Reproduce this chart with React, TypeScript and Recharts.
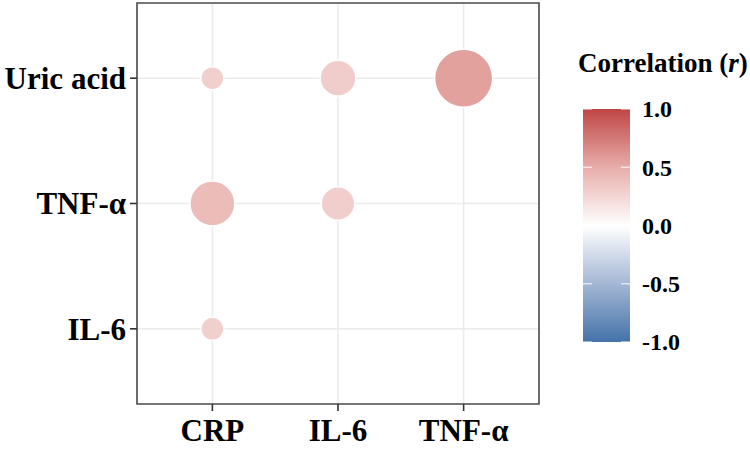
import { ScatterChart, Scatter, XAxis, YAxis, ZAxis, CartesianGrid, ReferenceArea, Cell } from "recharts";

document.body.style.margin = "0";

const FONT = '"Times New Roman", "Liberation Serif", serif';

// x categories (columns) and y categories (rows, bottom to top)
const xLabels = ["CRP", "IL-6", "TNF-α"];
const yLabels = ["IL-6", "TNF-α", "Uric acid"];

// one entry per bubble
const pointX = ["CRP", "IL-6", "TNF-α", "CRP", "IL-6", "CRP"];
const pointY = ["Uric acid", "Uric acid", "Uric acid", "TNF-α", "TNF-α", "IL-6"];
const corrR = [0.29, 0.31, 0.56, 0.41, 0.3, 0.29];
const logP = [1.4, 2.4, 5.2, 3.4, 2.2, 1.4];

const legendTicks = [1.0, 0.5, 0.0, -0.5, -1.0];

const COLOR_STOPS: [number, number[]][] = [
  [-1, [68, 114, 169]],
  [-0.5, [164, 183, 212]],
  [0, [255, 255, 255]],
  [0.5, [231, 173, 169]],
  [1, [191, 69, 69]],
];

function corrColor(r: number) {
  for (let i = 0; i < COLOR_STOPS.length - 1; i++) {
    const [a, ca] = COLOR_STOPS[i];
    const [b, cb] = COLOR_STOPS[i + 1];
    if (r >= a && r <= b) {
      const t = (r - a) / (b - a);
      const c = ca.map((v, k) => Math.round(v + (cb[k] - v) * t));
      return `rgb(${c[0]},${c[1]},${c[2]})`;
    }
  }
  return "#fff";
}

const data = pointX.map((x, i) => ({
  x: xLabels.indexOf(x),
  y: yLabels.indexOf(pointY[i]),
  r: corrR[i],
  size: logP[i],
}));

function XTick({ x, y, payload }: any) {
  return (
    <text x={x} y={y + 28} textAnchor="middle" fontFamily={FONT} fontWeight="bold" fontSize={31} fill="#000">
      {xLabels[payload.value]}
    </text>
  );
}

function YTick({ x, y, payload }: any) {
  return (
    <text x={x - 2} y={y} dy="0.35em" textAnchor="end" fontFamily={FONT} fontWeight="bold" fontSize={31} fill="#000">
      {yLabels[payload.value]}
    </text>
  );
}

function ColorBar() {
  const left = 583;
  const w = 47;
  const top = 109;
  const bottom = 342;
  const toY = (v: number) => top + ((1 - v) / 2) * (bottom - top);
  const stops = [];
  for (let v = 1; v >= -1.0001; v -= 0.1) stops.push(v);
  return (
    <svg width={750} height={449} style={{ position: "absolute", left: 0, top: 0, pointerEvents: "none" }}>
      <defs>
        <linearGradient id="cbar" x1="0" y1="0" x2="0" y2="1">
          {stops.map((v, i) => (
            <stop key={i} offset={`${((1 - v) / 2) * 100}%`} stopColor={corrColor(Math.max(-1, Math.min(1, v)))} />
          ))}
        </linearGradient>
      </defs>
      <text x={578} y={72} fontFamily={FONT} fontWeight="bold" fontSize={27} fill="#000">
        Correlation (<tspan fontStyle="italic">r</tspan>)
      </text>
      <rect x={left} y={top} width={w} height={bottom - top} fill="url(#cbar)" />
      {legendTicks.map((v) => (
        <g key={v}>
          <line x1={left} x2={left + 9} y1={toY(v)} y2={toY(v)} stroke="#fff" strokeWidth={1.2} opacity={0.8} />
          <line x1={left + w - 9} x2={left + w} y1={toY(v)} y2={toY(v)} stroke="#fff" strokeWidth={1.2} opacity={0.8} />
          <text x={642} y={toY(v)} dy="0.35em" fontFamily={FONT} fontWeight="bold" fontSize={24} fill="#000">
            {v.toFixed(1)}
          </text>
        </g>
      ))}
    </svg>
  );
}

export default function App() {
  return (
    <div style={{ position: "relative", width: 750, height: 449, background: "#fff" }}>
      <ScatterChart width={750} height={449} margin={{ top: 3, right: 211, left: 0, bottom: 0 }}>
        <CartesianGrid stroke="#EBEBEB" strokeWidth={1.6} />
        <XAxis
          type="number"
          dataKey="x"
          domain={[-0.6, 2.6]}
          ticks={[0, 1, 2]}
          height={45}
          axisLine={false}
          tickSize={7}
          tickLine={{ stroke: "#333", strokeWidth: 1.6 }}
          tick={<XTick />}
          interval={0}
        />
        <YAxis
          type="number"
          dataKey="y"
          domain={[-0.6, 2.6]}
          ticks={[0, 1, 2]}
          width={137}
          axisLine={false}
          tickSize={7}
          tickLine={{ stroke: "#333", strokeWidth: 1.6 }}
          tick={<YTick />}
          interval={0}
        />
        <ZAxis type="number" dataKey="size" domain={[1.4, 5.2]} range={[415, 2642]} />
        <Scatter data={data} shape="circle" stroke="#fff" strokeWidth={1.5} isAnimationActive={false}>
          {data.map((d, i) => (
            <Cell key={i} fill={corrColor(d.r)} />
          ))}
        </Scatter>
        <ReferenceArea x1={-0.6} x2={2.6} y1={-0.6} y2={2.6} fill="none" stroke="#4d4d4d" strokeWidth={1.6} ifOverflow="visible" />
      </ScatterChart>
      <ColorBar />
    </div>
  );
}
